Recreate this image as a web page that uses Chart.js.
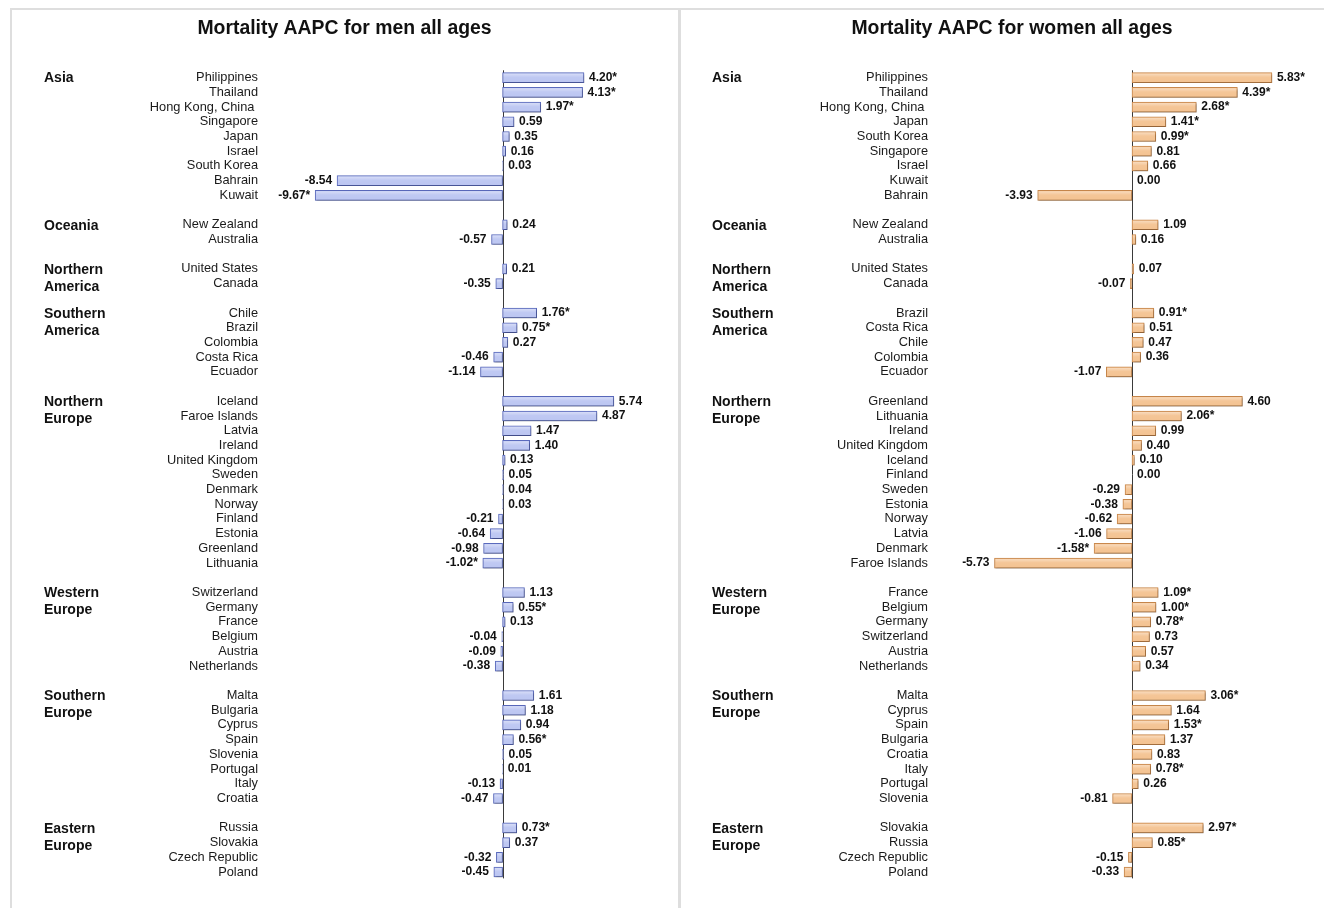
<!DOCTYPE html>
<html>
<head>
<meta charset="utf-8">
<script src="https://cdn.jsdelivr.net/npm/chart.js@4.4.1/dist/chart.umd.min.js"></script>
<style>
  html, body { margin: 0; padding: 0; background: #ffffff; }
  body { width: 1324px; height: 908px; position: relative; overflow: hidden; }
  .rule { position: absolute; background: #dedede; }
  canvas { position: absolute; }
</style>
</head>
<body>
<div class="rule" style="left:10px; top:8px; width:1314px; height:2px;"></div>
<div class="rule" style="left:10px; top:8px; width:2px; height:900px;"></div>
<div class="rule" style="left:678px; top:8px; width:3px; height:900px;"></div>
<canvas id="men" width="666" height="897" style="left:12px; top:11px;"></canvas>
<canvas id="women" width="624" height="897" style="left:700px; top:11px;"></canvas>
<script>
// Regions, in the order they are listed down each panel
const regions = ['Asia', 'Oceania', 'Northern\nAmerica', 'Southern\nAmerica', 'Northern\nEurope',
                 'Western\nEurope', 'Southern\nEurope', 'Eastern\nEurope'];

// Men: countries and AAPC (%) per region
const menCountries = [
  ['Philippines', 'Thailand', 'Hong Kong, China ', 'Singapore', 'Japan', 'Israel', 'South Korea', 'Bahrain', 'Kuwait'],
  ['New Zealand', 'Australia'],
  ['United States', 'Canada'],
  ['Chile', 'Brazil', 'Colombia', 'Costa Rica', 'Ecuador'],
  ['Iceland', 'Faroe Islands', 'Latvia', 'Ireland', 'United Kingdom', 'Sweden', 'Denmark', 'Norway', 'Finland', 'Estonia', 'Greenland', 'Lithuania'],
  ['Switzerland', 'Germany', 'France', 'Belgium', 'Austria', 'Netherlands'],
  ['Malta', 'Bulgaria', 'Cyprus', 'Spain', 'Slovenia', 'Portugal', 'Italy', 'Croatia'],
  ['Russia', 'Slovakia', 'Czech Republic', 'Poland']
];
const menValues = [
  [4.20, 4.13, 1.97, 0.59, 0.35, 0.16, 0.03, -8.54, -9.67],
  [0.24, -0.57],
  [0.21, -0.35],
  [1.76, 0.75, 0.27, -0.46, -1.14],
  [5.74, 4.87, 1.47, 1.40, 0.13, 0.05, 0.04, 0.03, -0.21, -0.64, -0.98, -1.02],
  [1.13, 0.55, 0.13, -0.04, -0.09, -0.38],
  [1.61, 1.18, 0.94, 0.56, 0.05, 0.01, -0.13, -0.47],
  [0.73, 0.37, -0.32, -0.45]
];
// Men: trends marked significant (*)
const menSignificant = ['Philippines', 'Thailand', 'Hong Kong, China ', 'Kuwait', 'Chile', 'Brazil',
                        'Lithuania', 'Germany', 'Spain', 'Russia'];

// Women: countries and AAPC (%) per region
const womenCountries = [
  ['Philippines', 'Thailand', 'Hong Kong, China ', 'Japan', 'South Korea', 'Singapore', 'Israel', 'Kuwait', 'Bahrain'],
  ['New Zealand', 'Australia'],
  ['United States', 'Canada'],
  ['Brazil', 'Costa Rica', 'Chile', 'Colombia', 'Ecuador'],
  ['Greenland', 'Lithuania', 'Ireland', 'United Kingdom', 'Iceland', 'Finland', 'Sweden', 'Estonia', 'Norway', 'Latvia', 'Denmark', 'Faroe Islands'],
  ['France', 'Belgium', 'Germany', 'Switzerland', 'Austria', 'Netherlands'],
  ['Malta', 'Cyprus', 'Spain', 'Bulgaria', 'Croatia', 'Italy', 'Portugal', 'Slovenia'],
  ['Slovakia', 'Russia', 'Czech Republic', 'Poland']
];
const womenValues = [
  [5.83, 4.39, 2.68, 1.41, 0.99, 0.81, 0.66, 0.00, -3.93],
  [1.09, 0.16],
  [0.07, -0.07],
  [0.91, 0.51, 0.47, 0.36, -1.07],
  [4.60, 2.06, 0.99, 0.40, 0.10, 0.00, -0.29, -0.38, -0.62, -1.06, -1.58, -5.73],
  [1.09, 1.00, 0.78, 0.73, 0.57, 0.34],
  [3.06, 1.64, 1.53, 1.37, 0.83, 0.78, 0.26, -0.81],
  [2.97, 0.85, -0.15, -0.33]
];
// Women: trends marked significant (*)
const womenSignificant = ['Philippines', 'Thailand', 'Hong Kong, China ', 'Japan', 'South Korea', 'Brazil',
                          'Lithuania', 'Denmark', 'France', 'Belgium', 'Germany', 'Malta', 'Spain', 'Italy',
                          'Slovakia', 'Russia'];

const FONT = '"Liberation Sans", Arial, Helvetica, sans-serif';

// Flatten the regional groups into one list of rows, with an empty row between regions
function buildRows(countries, values, significant) {
  const labels = [], data = [], text = [], starts = [];
  countries.forEach((group, g) => {
    if (g > 0) { labels.push(''); data.push(null); text.push(''); }
    starts.push(labels.length);
    group.forEach((name, i) => {
      const v = values[g][i];
      labels.push(name);
      data.push(v);
      text.push(v.toFixed(2) + (significant.includes(name) ? '*' : ''));
    });
  });
  return { labels, data, text, starts };
}

// Zero line, region names, bar shading and value labels
const panelDecor = {
  id: 'panelDecor',
  beforeDatasetsDraw(chart) {
    const { ctx, chartArea, scales } = chart;
    const x0 = Math.round(scales.x.getPixelForValue(0)) + 0.5;
    ctx.save();
    ctx.strokeStyle = '#3a3a3a';
    ctx.lineWidth = 1;
    ctx.beginPath();
    ctx.moveTo(x0, chartArea.top);
    ctx.lineTo(x0, chartArea.bottom - 1);
    ctx.stroke();
    ctx.restore();
  },
  beforeDatasetDraw(chart) {
    const ctx = chart.ctx;
    ctx.save();
    ctx.shadowColor = 'rgba(0,0,0,0.3)';
    ctx.shadowOffsetX = 1;
    ctx.shadowOffsetY = 1.5;
    ctx.shadowBlur = 2;
  },
  afterDatasetDraw(chart) {
    chart.ctx.restore();
  },
  afterDatasetsDraw(chart, args, opts) {
    const { ctx, scales } = chart;
    const meta = chart.getDatasetMeta(0);
    const rows = opts.rows;
    ctx.save();
    // soft highlight on the upper half of every bar
    meta.data.forEach((bar, i) => {
      if (rows.data[i] === null) return;
      const p = bar.getProps(['x', 'y', 'base', 'height'], true);
      const left = Math.min(p.x, p.base) + 1, right = Math.max(p.x, p.base) - 1;
      if (right - left <= 0) return;
      const top = p.y - p.height / 2 + 1;
      const g = ctx.createLinearGradient(0, top, 0, top + p.height - 2);
      g.addColorStop(0, 'rgba(255,255,255,0.4)');
      g.addColorStop(0.45, 'rgba(255,255,255,0.05)');
      g.addColorStop(1, 'rgba(255,255,255,0)');
      ctx.fillStyle = g;
      ctx.fillRect(left, top, right - left, p.height - 2);
    });
    // value labels
    ctx.font = 'bold 12px ' + FONT;
    ctx.fillStyle = '#111';
    ctx.textBaseline = 'middle';
    meta.data.forEach((bar, i) => {
      const v = rows.data[i];
      if (v === null) return;
      const p = bar.getProps(['x', 'y'], true);
      if (v >= 0) { ctx.textAlign = 'left'; ctx.fillText(rows.text[i], p.x + 5, p.y); }
      else { ctx.textAlign = 'right'; ctx.fillText(rows.text[i], p.x - 5, p.y); }
    });
    // region names beside the first country of each group
    ctx.font = 'bold 14px ' + FONT;
    ctx.textAlign = 'left';
    ctx.fillStyle = '#111';
    regions.forEach((name, r) => {
      const y = scales.y.getPixelForValue(rows.starts[r]) + 1;
      name.split('\n').forEach((line, k) => ctx.fillText(line, opts.regionX, y + k * 17));
    });
    ctx.restore();
  }
};

function makePanel(id, title, rows, cfg) {
  return new Chart(document.getElementById(id), {
    type: 'bar',
    data: {
      labels: rows.labels,
      datasets: [{
        data: rows.data,
        backgroundColor: cfg.fill,
        borderColor: cfg.border,
        borderWidth: 1,
        borderSkipped: false,
        barThickness: 10
      }]
    },
    plugins: [panelDecor],
    options: {
      indexAxis: 'y',
      responsive: false,
      animation: false,
      events: [],
      layout: { padding: { left: 0, right: cfg.padRight, top: 0, bottom: 28.6 } },
      plugins: {
        legend: { display: false },
        tooltip: { enabled: false },
        title: {
          display: true,
          text: title,
          color: '#111',
          font: { family: FONT, size: 19.4, weight: 'bold' },
          padding: { top: 6, bottom: 30 }
        },
        panelDecor: { rows: rows, regionX: cfg.regionX }
      },
      scales: {
        x: { display: false, min: cfg.min, max: cfg.max },
        y: {
          grid: { display: false, drawTicks: false },
          border: { display: false },
          ticks: { autoSkip: false, padding: 12, color: '#1a1a1a', font: { family: FONT, size: 12.8 } },
          afterFit(scale) { scale.width = cfg.axisWidth; }
        }
      }
    }
  });
}

makePanel('men', 'Mortality AAPC for men all ages',
  buildRows(menCountries, menValues, menSignificant),
  { fill: '#bcc6f2', border: '#5a6abd', min: -12, max: 9, axisWidth: 258, padRight: 1, regionX: 32 });

makePanel('women', 'Mortality AAPC for women all ages',
  buildRows(womenCountries, womenValues, womenSignificant),
  { fill: '#f4c392', border: '#c9884c', min: -8, max: 8, axisWidth: 240, padRight: 0, regionX: 12 });
</script>
</body>
</html>
